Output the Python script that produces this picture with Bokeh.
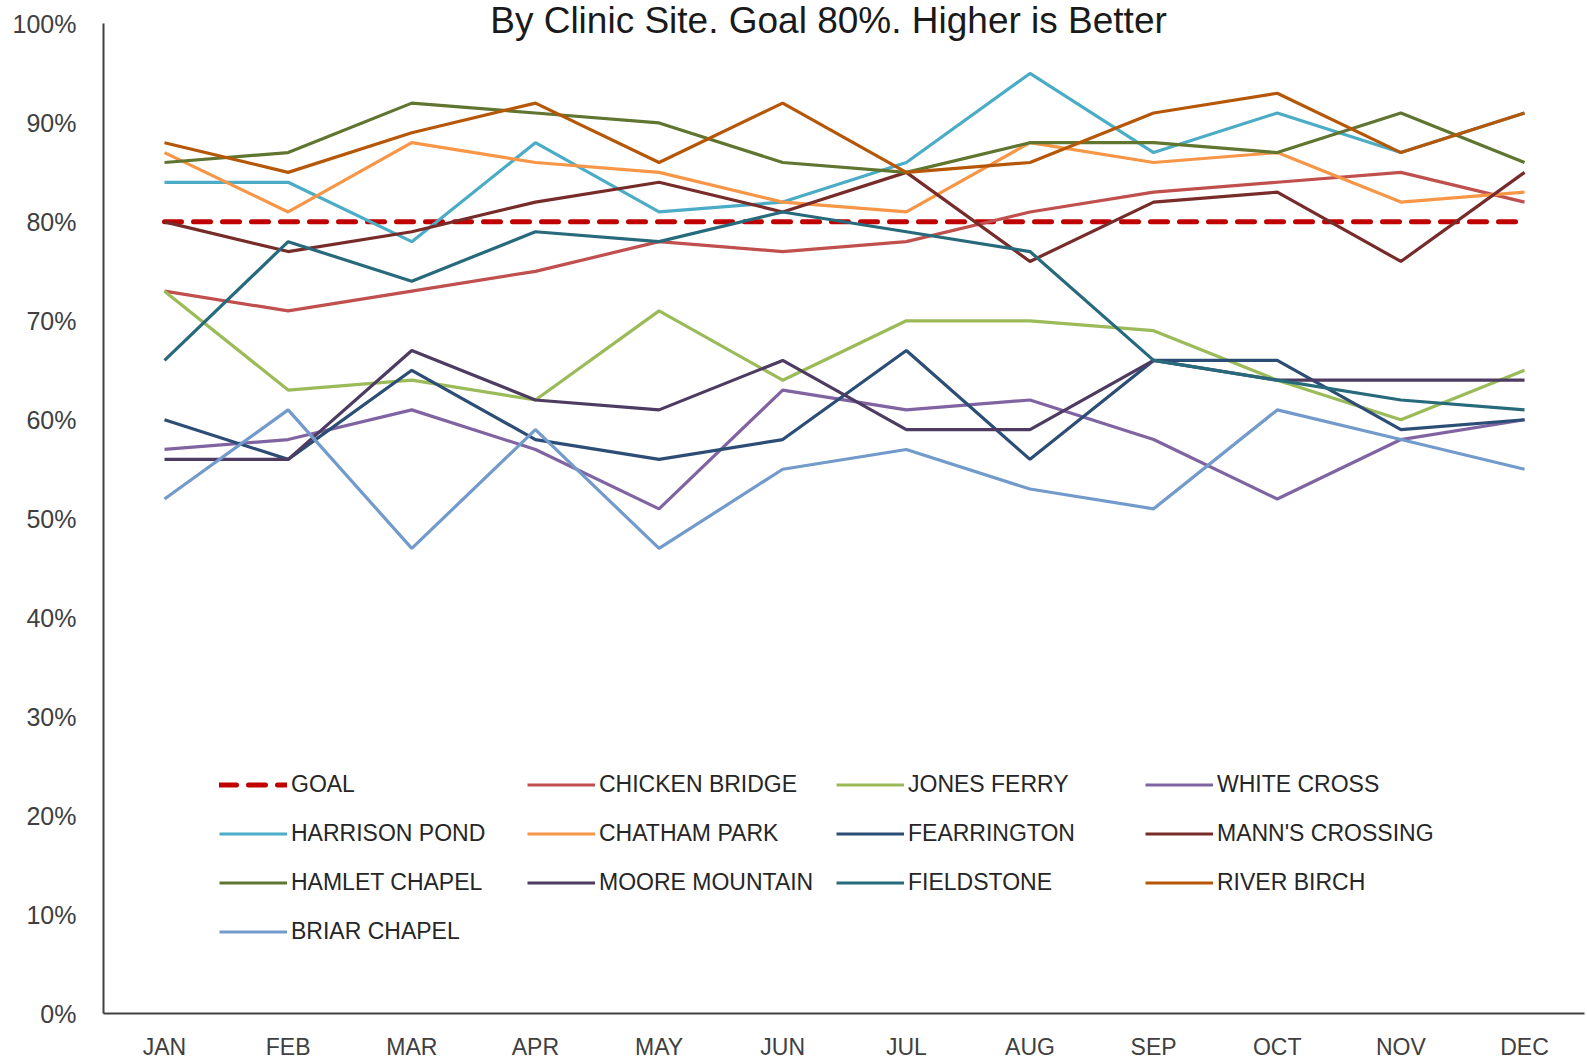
from bokeh.plotting import figure
from bokeh.models import Range1d, FixedTicker, Legend, LegendItem, Label
from bokeh.embed import file_html
from bokeh.resources import INLINE

# ---------------- data ----------------
MONTHS = ["JAN", "FEB", "MAR", "APR", "MAY", "JUN", "JUL", "AUG", "SEP", "OCT", "NOV", "DEC"]
Y_TICKS = [0, 10, 20, 30, 40, 50, 60, 70, 80, 90, 100]
TITLE = "By Clinic Site. Goal 80%. Higher is Better"

GOAL            = [80, 80, 80, 80, 80, 80, 80, 80, 80, 80, 80, 80]
CHICKEN_BRIDGE  = [73, 71, 73, 75, 78, 77, 78, 81, 83, 84, 85, 82]
JONES_FERRY     = [73, 63, 64, 62, 71, 64, 70, 70, 69, 64, 60, 65]
WHITE_CROSS     = [57, 58, 61, 57, 51, 63, 61, 62, 58, 52, 58, 60]
HARRISON_POND   = [84, 84, 78, 88, 81, 82, 86, 95, 87, 91, 87, 91]
CHATHAM_PARK    = [87, 81, 88, 86, 85, 82, 81, 88, 86, 87, 82, 83]
FEARRINGTON     = [60, 56, 65, 58, 56, 58, 67, 56, 66, 66, 59, 60]
MANNS_CROSSING  = [80, 77, 79, 82, 84, 81, 85, 76, 82, 83, 76, 85]
HAMLET_CHAPEL   = [86, 87, 92, 91, 90, 86, 85, 88, 88, 87, 91, 86]
MOORE_MOUNTAIN  = [56, 56, 67, 62, 61, 66, 59, 59, 66, 64, 64, 64]
FIELDSTONE      = [66, 78, 74, 79, 78, 81, 79, 77, 66, 64, 62, 61]
RIVER_BIRCH     = [88, 85, 89, 92, 86, 92, 85, 86, 91, 93, 87, 91]
BRIAR_CHAPEL    = [52, 61, 47, 59, 47, 55, 57, 53, 51, 61, 58, 55]

SERIES = [
    ("GOAL", GOAL),
    ("CHICKEN BRIDGE", CHICKEN_BRIDGE),
    ("JONES FERRY", JONES_FERRY),
    ("WHITE CROSS", WHITE_CROSS),
    ("HARRISON POND", HARRISON_POND),
    ("CHATHAM PARK", CHATHAM_PARK),
    ("FEARRINGTON", FEARRINGTON),
    ("MANN'S CROSSING", MANNS_CROSSING),
    ("HAMLET CHAPEL", HAMLET_CHAPEL),
    ("MOORE MOUNTAIN", MOORE_MOUNTAIN),
    ("FIELDSTONE", FIELDSTONE),
    ("RIVER BIRCH", RIVER_BIRCH),
    ("BRIAR CHAPEL", BRIAR_CHAPEL),
]

# ---------------- styles ----------------
COLORS = {
    "GOAL": "#C00000",
    "CHICKEN BRIDGE": "#C0504D",
    "JONES FERRY": "#9BBB59",
    "WHITE CROSS": "#8064A2",
    "HARRISON POND": "#4BACC6",
    "CHATHAM PARK": "#F79646",
    "FEARRINGTON": "#2C4D75",
    "MANN'S CROSSING": "#772C2A",
    "HAMLET CHAPEL": "#5F7530",
    "MOORE MOUNTAIN": "#4D3B62",
    "FIELDSTONE": "#276A7C",
    "RIVER BIRCH": "#B65708",
    "BRIAR CHAPEL": "#729ACA",
}
FONT = "Liberation Sans"
TEXT_DARK = "#262626"
AXIS_GRAY = "#404040"

X = list(range(len(MONTHS)))

p = figure(
    width=1587, height=1062,
    output_backend="svg", toolbar_location=None, title=None,
    x_range=Range1d(-0.4934, 11.485), y_range=Range1d(0, 102.37),
    min_border_left=103, min_border_right=3, min_border_top=0, min_border_bottom=47,
    background_fill_color="white", border_fill_color="white",
    outline_line_color=None,
)
p.grid.visible = False

# y axis
p.yaxis.ticker = FixedTicker(ticks=Y_TICKS)
p.yaxis.bounds = (0, 100)
p.yaxis.major_label_overrides = {t: f"{t}%" for t in Y_TICKS}
p.yaxis.major_tick_out = 0
p.yaxis.major_tick_in = 0
p.yaxis.minor_tick_out = 0
p.yaxis.minor_tick_in = 0
p.yaxis.major_label_standoff = 27
p.yaxis.axis_line_color = AXIS_GRAY
p.yaxis.axis_line_width = 2
p.yaxis.major_label_text_font = FONT
p.yaxis.major_label_text_font_size = "25px"
p.yaxis.major_label_text_color = AXIS_GRAY

# x axis
p.xaxis.ticker = FixedTicker(ticks=X)
p.xaxis.major_label_overrides = {i: m for i, m in zip(X, MONTHS)}
p.xaxis.major_tick_out = 0
p.xaxis.major_tick_in = 0
p.xaxis.minor_tick_out = 0
p.xaxis.minor_tick_in = 0
p.xaxis.major_label_standoff = 20
p.xaxis.axis_line_color = AXIS_GRAY
p.xaxis.axis_line_width = 2
p.xaxis.major_label_text_font = FONT
p.xaxis.major_label_text_font_size = "23px"
p.xaxis.major_label_text_color = AXIS_GRAY

# lines
renderers = {}
for name, vals in SERIES:
    if name == "GOAL":
        r = p.line(x=X, y=vals, line_color=COLORS[name], line_width=5,
                   line_dash="17 12", line_cap="round")
    else:
        r = p.line(x=X, y=vals, line_color=COLORS[name], line_width=3.2)
    renderers[name] = r

# legend: 4 columns, row-major order
names = [n for n, _ in SERIES]
NCOL = 4
col_x = [116, 424, 733, 1042]
ROW_H = 49
for c in range(NCOL):
    col_names = names[c::NCOL]
    n = len(col_names)
    vy = 57 + (4 - n) * ROW_H
    leg = Legend(
        items=[LegendItem(label=nm, renderers=[renderers[nm]]) for nm in col_names],
        location=(col_x[c], vy), orientation="vertical",
        padding=0, spacing=0, margin=0,
        glyph_width=68, glyph_height=ROW_H, label_height=ROW_H, label_standoff=4,
        label_text_font=FONT, label_text_font_size="23px", label_text_color=TEXT_DARK,
        border_line_color=None, background_fill_alpha=0,
    )
    p.add_layout(leg, "center")

# title
p.add_layout(Label(
    x=725, y=1014, x_units="screen", y_units="screen",
    text=TITLE, text_align="center", text_baseline="top",
    text_font=FONT, text_font_size="37px", text_color="#1a1a1a",
))

open("out.html", "w").write(file_html(p, INLINE))
